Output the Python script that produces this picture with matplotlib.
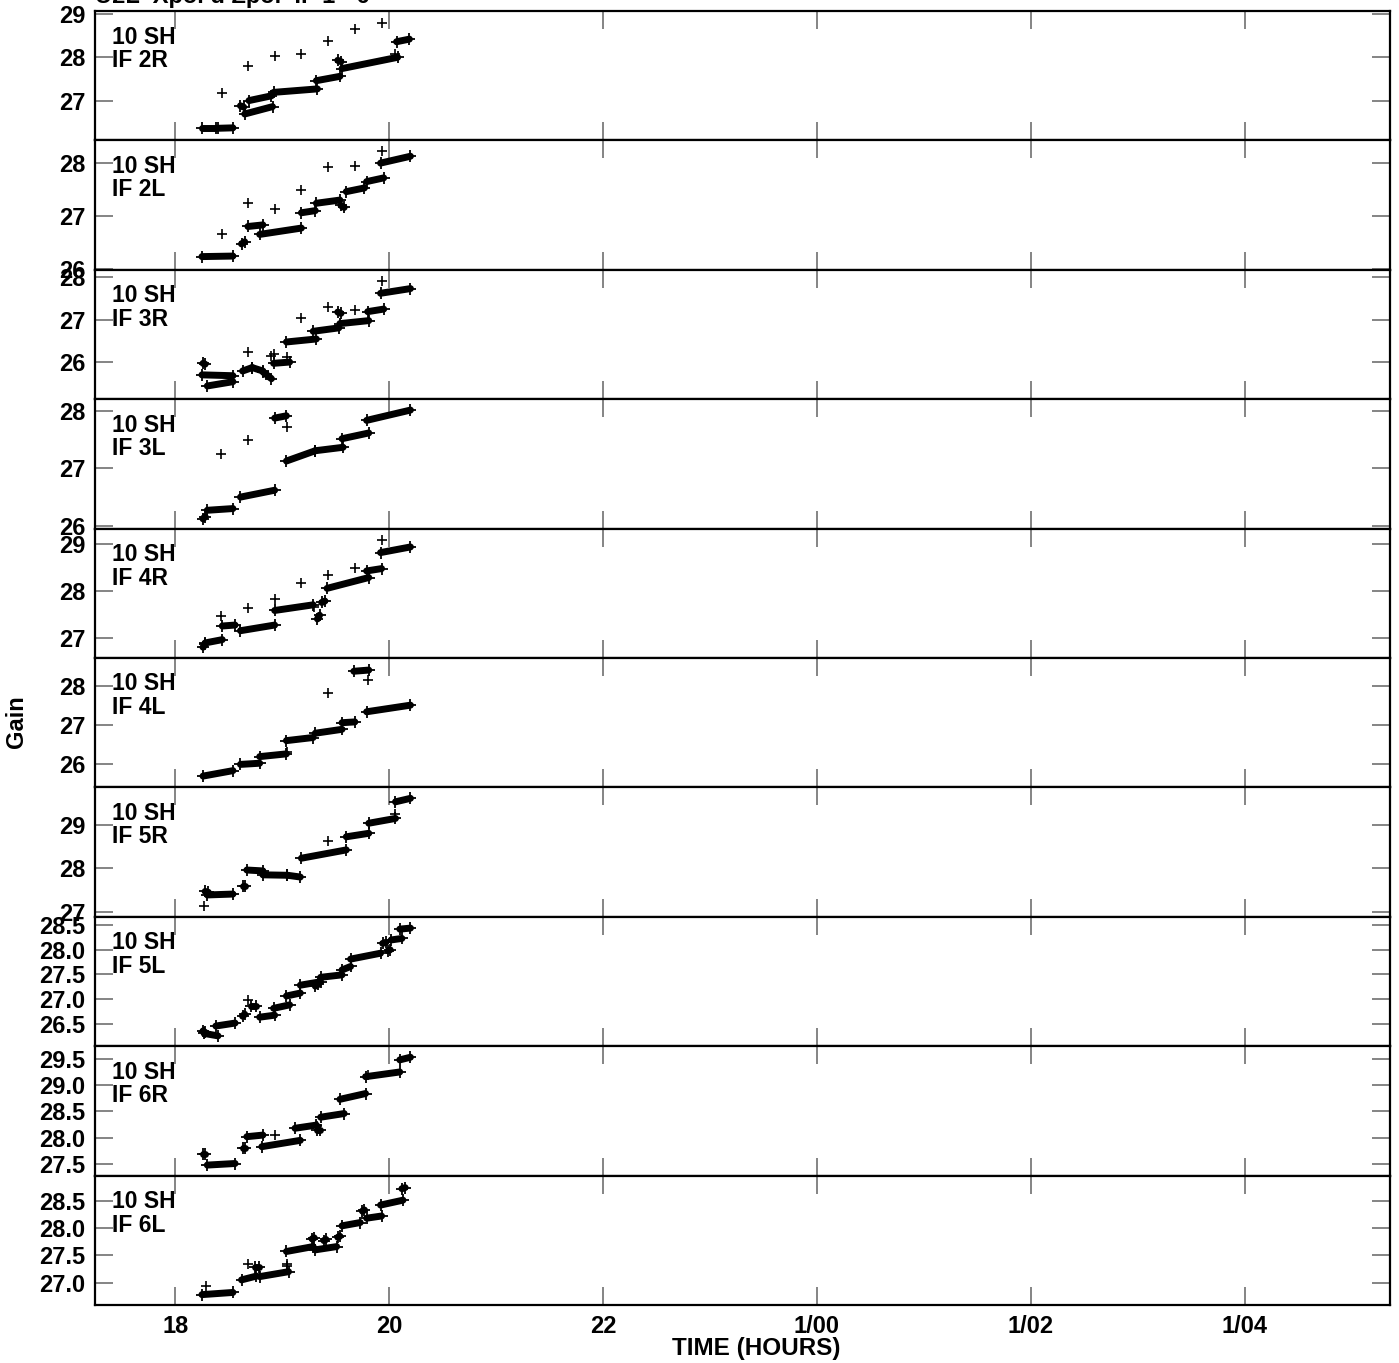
import matplotlib
matplotlib.use("Agg")
import matplotlib.pyplot as plt
from matplotlib.ticker import FormatStrFormatter

plt.rcParams['font.family'] = ['Liberation Sans', 'DejaVu Sans']
plt.rcParams['font.weight'] = 'bold'

# ---------------- data (time in hours, gain) ----------------
panel_labels = ["IF 2R", "IF 2L", "IF 3R", "IF 3L", "IF 4R",
                "IF 4L", "IF 5R", "IF 5L", "IF 6R", "IF 6L"]
antenna_label = "10 SH"

xticks = [18, 20, 22, 24, 26, 28]
xtick_labels = ["18", "20", "22", "1/00", "1/02", "1/04"]

# scans: (t_start, t_end, gain_start, gain_end)
IF2R_scans = [(18.25, 18.38, 26.36, 26.36), (18.40, 18.54, 26.36, 26.37),
              (18.61, 18.64, 26.88, 26.85), (18.65, 18.91, 26.69, 26.86),
              (18.69, 18.90, 27.00, 27.11), (18.92, 19.33, 27.19, 27.27),
              (19.32, 19.54, 27.46, 27.56), (19.52, 19.55, 27.93, 27.90),
              (19.56, 20.08, 27.74, 28.00), (20.07, 20.19, 28.36, 28.42)]
IF2R_out_t = [18.44, 18.68, 18.93, 19.18, 19.43, 19.68, 19.93, 20.06]
IF2R_out_g = [27.17, 27.79, 28.03, 28.08, 28.37, 28.65, 28.80, 28.07]

IF2L_scans = [(18.25, 18.54, 26.23, 26.24), (18.62, 18.65, 26.47, 26.51),
              (18.68, 18.82, 26.80, 26.83), (18.79, 19.18, 26.65, 26.77),
              (19.18, 19.31, 27.06, 27.10), (19.32, 19.54, 27.24, 27.30),
              (19.55, 19.58, 27.20, 27.16), (19.60, 19.77, 27.46, 27.53),
              (19.79, 19.95, 27.65, 27.72), (19.92, 20.20, 28.00, 28.13)]
IF2L_out_t = [18.44, 18.68, 18.93, 19.18, 19.43, 19.68, 19.93]
IF2L_out_g = [26.65, 27.24, 27.13, 27.49, 27.92, 27.95, 28.23]

IF3R_scans = [(18.26, 18.28, 25.98, 25.96), (18.25, 18.54, 25.71, 25.69),
              (18.30, 18.54, 25.45, 25.55), (18.63, 18.72, 25.80, 25.88),
              (18.72, 18.82, 25.88, 25.80), (18.82, 18.90, 25.78, 25.62),
              (18.92, 19.07, 25.98, 26.01), (19.04, 19.32, 26.48, 26.55),
              (19.29, 19.53, 26.73, 26.81), (19.52, 19.55, 27.18, 27.15),
              (19.54, 19.81, 26.91, 26.98), (19.80, 19.95, 27.19, 27.25),
              (19.92, 20.20, 27.62, 27.73)]
IF3R_out_t = [18.68, 18.92, 18.90, 19.05, 19.18, 19.43, 19.68, 19.93]
IF3R_out_g = [26.25, 26.21, 26.15, 26.12, 27.05, 27.31, 27.23, 27.90]

IF3L_scans = [(18.26, 18.28, 26.12, 26.16), (18.30, 18.54, 26.27, 26.30),
              (18.61, 18.93, 26.50, 26.62), (18.93, 19.04, 27.88, 27.92),
              (19.04, 19.31, 27.13, 27.31), (19.31, 19.57, 27.31, 27.37),
              (19.56, 19.81, 27.52, 27.62), (19.79, 20.20, 27.84, 28.02)]
IF3L_out_t = [18.43, 18.68, 19.05]
IF3L_out_g = [27.26, 27.49, 27.73]

IF4R_scans = [(18.26, 18.28, 26.80, 26.86), (18.28, 18.44, 26.89, 26.96),
              (18.44, 18.56, 27.25, 27.27), (18.61, 18.93, 27.15, 27.27),
              (18.93, 19.29, 27.58, 27.70), (19.33, 19.35, 27.40, 27.48),
              (19.37, 19.40, 27.75, 27.78), (19.42, 19.81, 28.05, 28.28),
              (19.79, 19.93, 28.42, 28.47), (19.92, 20.20, 28.81, 28.93)]
IF4R_out_t = [18.43, 18.68, 18.93, 19.18, 19.43, 19.68, 19.93, 19.30]
IF4R_out_g = [27.46, 27.64, 27.83, 28.16, 28.33, 28.49, 29.07, 27.66]

IF4L_scans = [(18.26, 18.54, 25.69, 25.83), (18.61, 18.79, 25.99, 26.02),
              (18.79, 19.04, 26.19, 26.26), (19.04, 19.29, 26.60, 26.68),
              (19.31, 19.56, 26.79, 26.89), (19.56, 19.68, 27.06, 27.08),
              (19.67, 19.81, 28.38, 28.41), (19.79, 20.20, 27.34, 27.51)]
IF4L_out_t = [19.05, 19.43, 19.80]
IF4L_out_g = [26.32, 27.81, 28.15]

IF5R_scans = [(18.28, 18.31, 27.47, 27.45), (18.30, 18.54, 27.39, 27.41),
              (18.63, 18.65, 27.60, 27.60), (18.67, 18.82, 27.96, 27.94),
              (18.82, 19.05, 27.85, 27.84), (19.05, 19.17, 27.84, 27.80),
              (19.18, 19.60, 28.23, 28.42), (19.60, 19.81, 28.72, 28.80),
              (19.81, 20.06, 29.03, 29.14), (20.06, 20.20, 29.52, 29.60)]
IF5R_out_t = [18.27, 19.43, 20.06]
IF5R_out_g = [27.14, 28.63, 29.25]

IF5L_scans = [(18.26, 18.28, 26.35, 26.32), (18.27, 18.40, 26.30, 26.25),
              (18.38, 18.56, 26.45, 26.51), (18.63, 18.65, 26.65, 26.69),
              (18.71, 18.76, 26.86, 26.86), (18.79, 18.93, 26.63, 26.67),
              (18.92, 19.07, 26.81, 26.88), (19.04, 19.17, 27.06, 27.12),
              (19.17, 19.36, 27.28, 27.35), (19.31, 19.34, 27.26, 27.30),
              (19.36, 19.56, 27.44, 27.49), (19.56, 19.64, 27.59, 27.66),
              (19.64, 19.92, 27.81, 27.93), (19.94, 19.97, 28.13, 28.15),
              (19.99, 20.01, 27.98, 28.00), (20.02, 20.12, 28.20, 28.23),
              (20.10, 20.20, 28.42, 28.44)]
IF5L_out_t = [18.68]
IF5L_out_g = [26.98]

IF6R_scans = [(18.26, 18.28, 27.69, 27.69), (18.30, 18.56, 27.48, 27.51),
              (18.63, 18.65, 27.80, 27.80), (18.67, 18.82, 28.02, 28.05),
              (18.81, 19.17, 27.83, 27.95), (19.12, 19.32, 28.18, 28.24),
              (19.33, 19.35, 28.14, 28.14), (19.36, 19.58, 28.39, 28.46),
              (19.54, 19.78, 28.73, 28.84), (19.78, 20.10, 29.16, 29.25),
              (20.10, 20.20, 29.48, 29.53)]
IF6R_out_t = [18.93, 19.33, 19.80]
IF6R_out_g = [28.06, 28.22, 29.20]

IF6L_scans = [(18.25, 18.54, 26.78, 26.82), (18.62, 18.76, 27.05, 27.12),
              (18.75, 18.78, 27.29, 27.29), (18.79, 19.06, 27.11, 27.20),
              (19.04, 19.29, 27.57, 27.66), (19.28, 19.30, 27.80, 27.82),
              (19.31, 19.51, 27.60, 27.66), (19.39, 19.41, 27.77, 27.79),
              (19.52, 19.54, 27.83, 27.85), (19.56, 19.73, 28.04, 28.10),
              (19.75, 19.77, 28.31, 28.33), (19.79, 19.93, 28.18, 28.22),
              (19.92, 20.13, 28.42, 28.51), (20.12, 20.15, 28.72, 28.74)]
IF6L_out_t = [18.29, 18.68, 19.05, 19.05]
IF6L_out_g = [26.94, 27.34, 27.35, 27.30]

all_scans = [IF2R_scans, IF2L_scans, IF3R_scans, IF3L_scans, IF4R_scans,
             IF4L_scans, IF5R_scans, IF5L_scans, IF6R_scans, IF6L_scans]
all_out_t = [IF2R_out_t, IF2L_out_t, IF3R_out_t, IF3L_out_t, IF4R_out_t,
             IF4L_out_t, IF5R_out_t, IF5L_out_t, IF6R_out_t, IF6L_out_t]
all_out_g = [IF2R_out_g, IF2L_out_g, IF3R_out_g, IF3L_out_g, IF4R_out_g,
             IF4L_out_g, IF5R_out_g, IF5L_out_g, IF6R_out_g, IF6L_out_g]

ylims = [(26.08, 29.07), (25.98, 28.43), (25.14, 28.17), (25.95, 28.21),
         (26.57, 29.32), (25.40, 28.72), (26.89, 29.85), (26.04, 28.67),
         (27.28, 29.74), (26.59, 28.96)]
yticks = [[27, 28, 29], [26, 27, 28], [26, 27, 28], [26, 27, 28], [27, 28, 29],
          [26, 27, 28], [27, 28, 29], [26.5, 27.0, 27.5, 28.0, 28.5],
          [27.5, 28.0, 28.5, 29.0, 29.5], [27.0, 27.5, 28.0, 28.5]]
ytick_fmt = ['%d'] * 7 + ['%.1f'] * 3

xlim = (17.25, 29.36)

# ---------------- figure ----------------
W, H = 1399, 1363
fig = plt.figure(figsize=(W / 100, H / 100), dpi=100)

left_px, right_px, top_px, bot_px = 95, 1390, 11, 1305
n = len(panel_labels)
ph = (bot_px - top_px) / n
pw = right_px - left_px

axes = []
for i in range(n):
    y_top = top_px + i * ph
    ax = fig.add_axes([left_px / W, 1 - (y_top + ph) / H, pw / W, ph / H])
    axes.append(ax)
    for t0, t1, g0, g1 in all_scans[i]:
        ax.plot([t0, t1], [g0, g1], color='black', lw=5,
                solid_capstyle='round', marker='+', ms=8, mew=1.3)
    ax.plot(all_out_t[i], all_out_g[i], linestyle='none', marker='+',
            color='black', ms=7, mew=1.2)
    ax.set_xlim(*xlim)
    ax.set_ylim(*ylims[i])
    ax.set_yticks(yticks[i])
    ax.yaxis.set_major_formatter(FormatStrFormatter(ytick_fmt[i]))
    ax.set_xticks(xticks)
    ax.tick_params(axis='both', direction='in', length=13, width=1.2,
                   color='#707070', labelsize=17, top=True, right=True)
    ax.tick_params(axis='y', pad=7)
    ax.tick_params(axis='x', pad=7)
    for lab in ax.get_yticklabels():
        lab.set_fontweight('bold')
    if i < n - 1:
        ax.set_xticklabels([])
    else:
        ax.set_xticklabels(xtick_labels, fontweight='bold')
    for sp in ax.spines.values():
        sp.set_linewidth(1.6)
        sp.set_color('black')
    # label: first baseline ~32 px below panel top, second ~56 px
    lx = 17.5 / pw
    ax.text(lx, 1 - 32.5 / ph, antenna_label, transform=ax.transAxes,
            fontsize=16.5, fontweight='bold', va='baseline', ha='left')
    ax.text(lx, 1 - 56 / ph, panel_labels[i], transform=ax.transAxes,
            fontsize=16.5, fontweight='bold', va='baseline', ha='left')

fig.text(756 / W, 1 - 1349 / H, "TIME (HOURS)", ha='center', va='center',
         fontsize=17.5, fontweight='bold')
fig.text(16 / W, 1 - 722 / H, "Gain", ha='center', va='center',
         rotation=90, fontsize=17, fontweight='bold')
fig.text(95 / W, 1 - 3 / H, "U2L  Xpol d Zpol  IF 1 - 6", ha='left',
         va='baseline', fontsize=17, fontweight='bold')

fig.savefig("out.png", dpi=100)
